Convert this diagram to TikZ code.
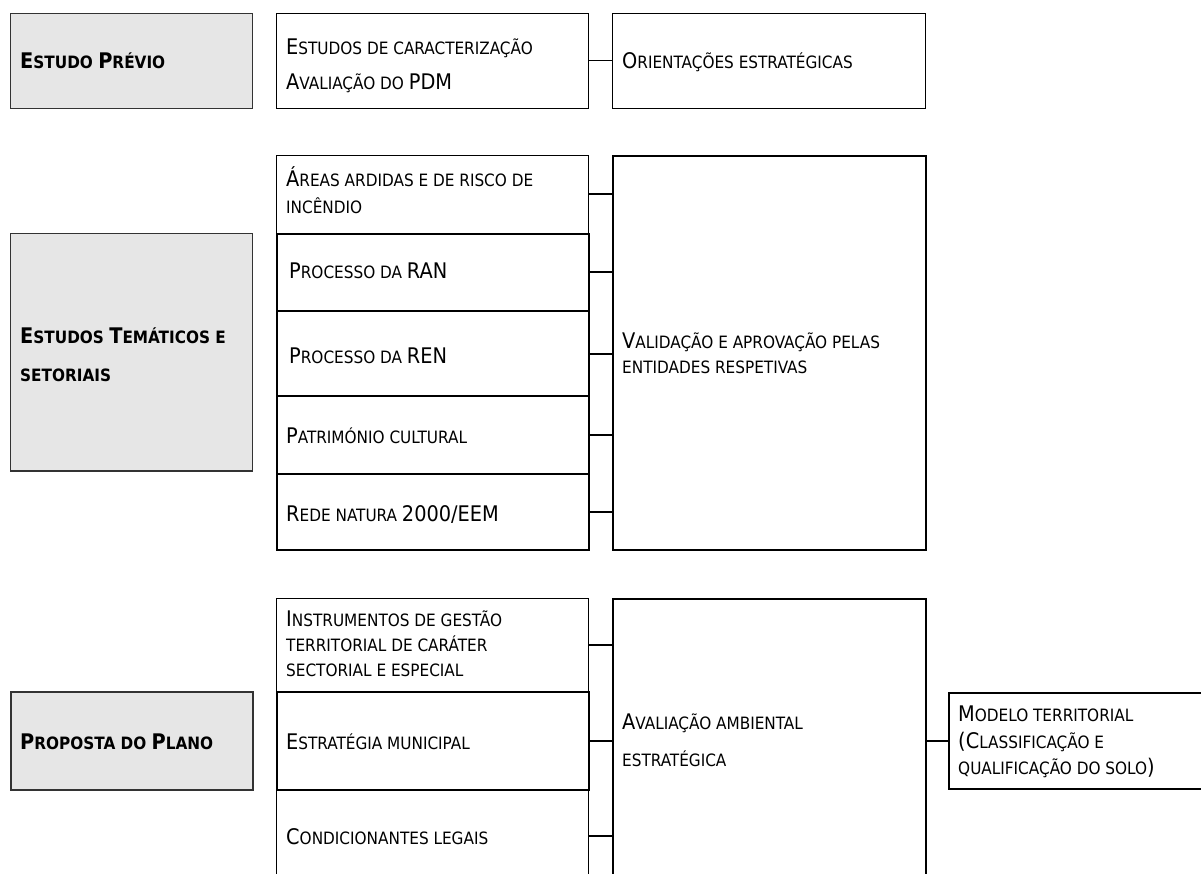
\documentclass[tikz,border=0pt]{standalone}
\usepackage{fontspec}
\setmainfont{DejaVu Sans Condensed}
\newcommand\Cap[1]{{\fontsize{21.5}{24}\selectfont #1}}
\definecolor{grayfill}{HTML}{E6E6E6}
\definecolor{grayline}{HTML}{333333}
\begin{document}
\begin{tikzpicture}[x=1pt,y=-1pt,
  box/.style={draw=black,line width=1pt,rectangle,inner sep=0pt,anchor=north west},
  thickbox/.style={draw=black,line width=2pt,rectangle,inner sep=0pt,anchor=north west},
  graybox/.style={draw=grayline,fill=grayfill,line width=1pt,rectangle,inner sep=0pt,anchor=north west},
  txt/.style={anchor=base west,inner sep=0pt,font=\fontsize{17}{20}\selectfont,text=black},
  btxt/.style={anchor=base west,inner sep=0pt,font=\fontsize{17}{20}\selectfont\bfseries,text=black},
  conn/.style={draw=black,line width=2pt},
  thinconn/.style={draw=black,line width=1pt}]
\useasboundingbox (0,0) rectangle (1201,874);
\clip (0,0) rectangle (1201,874);
\fill[white] (0,0) rectangle (1201,874);

% ---------- Estudo prévio ----------
\node[graybox,minimum width=242,minimum height=95] (g1) at (10,13) {};
\node[box,minimum width=312,minimum height=95] (b1) at (276,13) {};
\node[box,minimum width=313,minimum height=95] (orient) at (612,13) {};
\draw[thinconn] (b1.east) -- (b1.east -| orient.west);

\node[btxt] (tg1) at (20,68.5) {\Cap{E}STUDO \Cap{P}RÉVIO};
\node[txt] (tb1a) at (286,54.5) {\Cap{E}STUDOS DE CARACTERIZAÇÃO};
\node[txt] (tb1b) at (286,89.5) {\Cap{A}VALIAÇÃO DO \Cap{PDM}};
\node[txt] (tor) at (622,68.5) {\Cap{O}RIENTAÇÕES ESTRATÉGICAS};

% ---------- Estudos temáticos ----------
\node[graybox,minimum width=242,minimum height=237] (g2) at (10,233) {};
\draw[draw=grayline,line width=2pt] (g2.south west) -- (g2.south east);
\node[box,minimum width=312,minimum height=78] (areas) at (276,155) {};
\node[thickbox,minimum width=312,minimum height=77] (ran) at (276,233) {};
\node[thickbox,minimum width=312,minimum height=85] (ren) at (276,310) {};
\node[thickbox,minimum width=312,minimum height=78] (pat) at (276,395) {};
\node[thickbox,minimum width=312,minimum height=76] (rede) at (276,473) {};
\node[thickbox,minimum width=313,minimum height=394] (valid) at (612,155) {};
\foreach \n in {areas,ran,ren,pat,rede}
  \draw[conn] (\n.east) -- (\n.east -| valid.west);

\node[btxt] (tg2a) at (20,343.5) {\Cap{E}STUDOS \Cap{T}EMÁTICOS E};
\node[btxt] (tg2b) at (20,381.5) {SETORIAIS};
\node[txt] (tar1) at (286,186.5) {\Cap{Á}REAS ARDIDAS E DE RISCO DE};
\node[txt] (tar2) at (286,213.5) {INCÊNDIO};
\node[txt] (tran) at (289,278.5) {\Cap{P}ROCESSO DA \Cap{RAN}};
\node[txt] (tren) at (289,363.5) {\Cap{P}ROCESSO DA \Cap{REN}};
\node[txt] (tpat) at (286,443.5) {\Cap{P}ATRIMÓNIO CULTURAL};
\node[txt] (trede) at (286,521.5) {\Cap{R}EDE NATURA \Cap{2000/EEM}};
\node[txt] (tva1) at (622,348.5) {\Cap{V}ALIDAÇÃO E APROVAÇÃO PELAS};
\node[txt] (tva2) at (622,373.5) {ENTIDADES RESPETIVAS};

% ---------- Proposta do plano ----------
\node[graybox,line width=2pt,minimum width=242,minimum height=98] (g3) at (10,691) {};
\node[box,minimum width=312,minimum height=93] (instr) at (276,598) {};
\node[box,minimum width=312,minimum height=92] (cond) at (276,789) {};
\node[thickbox,minimum width=312,minimum height=98] (estr) at (276,691) {};
\node[thickbox,minimum width=313,minimum height=300] (aval) at (612,598) {};
\node[thickbox,minimum width=270,minimum height=96] (modelo) at (948,692) {};
\foreach \n in {instr,estr,cond}
  \draw[conn] (\n.east) -- (\n.east -| aval.west);
\draw[conn] (aval.east |- modelo.west) -- (modelo.west);

\node[btxt] (tg3) at (20,749.5) {\Cap{P}ROPOSTA DO \Cap{P}LANO};
\node[txt] (tin1) at (286,626.5) {\Cap{I}NSTRUMENTOS DE GESTÃO};
\node[txt] (tin2) at (286,651.5) {TERRITORIAL DE CARÁTER};
\node[txt] (tin3) at (286,676.5) {SECTORIAL E ESPECIAL};
\node[txt] (test) at (286,749.5) {\Cap{E}STRATÉGIA MUNICIPAL};
\node[txt] (tcond) at (286,844.5) {\Cap{C}ONDICIONANTES LEGAIS};
\node[txt] (tav1) at (622,729.5) {\Cap{A}VALIAÇÃO AMBIENTAL};
\node[txt] (tav2) at (622,766.5) {ESTRATÉGICA};
\node[txt] (tmo1) at (958,721.5) {\Cap{M}ODELO TERRITORIAL};
\node[txt] (tmo2) at (958,748.5) {\Cap{(C}LASSIFICAÇÃO E};
\node[txt] (tmo3) at (958,774.5) {QUALIFICAÇÃO DO SOLO\Cap{)}};
\end{tikzpicture}
\end{document}
